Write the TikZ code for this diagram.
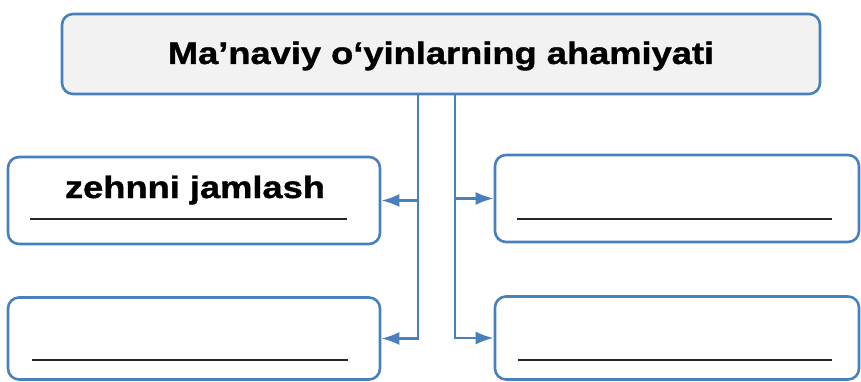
\documentclass[tikz,border=0pt]{standalone}
\usepackage{fontspec}
\setmainfont{Liberation Sans}
\newfontfamily\lblfont[FakeStretch=1.17,FakeBold=1.2]{Liberation Sans}
\usetikzlibrary{arrows.meta}
\definecolor{boxblue}{RGB}{72,128,190}
\tikzset{
	box/.style={draw=boxblue, line width=2.6pt, rounded corners=11pt, inner sep=0pt},
	link/.style={draw=boxblue, line width=2.6pt, -{Latex[length=18pt,width=13pt]}},
	blank/.style={draw=black!85, line width=2.8pt},
	lbl/.style={font=\lblfont\bfseries\fontsize{31}{36}\selectfont}
}
\begin{document}
\begin{tikzpicture}[x=1pt, y=-1pt]
		\useasboundingbox (0,0) rectangle (861,382);
		
		% riquadro principale
		\node[box, fill=black!5, minimum width=758pt, minimum height=80pt] (top) at (441,54) {};
		\node[lbl] (title) at (441,56) {Ma’naviy o‘yinlarning ahamiyati};
		
		% riquadri laterali
		\node[box, minimum width=372pt, minimum height=87pt] (lb1) at (194,200.5) {};
		\node[box, minimum width=372pt, minimum height=82pt] (lb2) at (194,338.5) {};
		\node[box, minimum width=364pt, minimum height=87pt] (rb1) at (677,198.5) {};
		\node[box, minimum width=364pt, minimum height=83pt] (rb2) at (677,338) {};
		\node[lbl] (zehn) at (195,190) {zehnni jamlash};
		
		% righe da completare
		\draw[blank] (30,219) -- (347,219);
		\draw[blank] (32,360) -- (348,360);
		\draw[blank] (517,219) -- (832,219);
		\draw[blank] (518,360) -- (832,360);
		
		% collegamenti
		\coordinate (tl) at (418,94);
		\coordinate (tr) at (455,94);
		\draw[link] (tl) |- (lb2.east);
		\draw[link] (tl |- lb1.east) -- (lb1.east);
		\draw[link] (tr) |- (rb2.west);
		\draw[link] (tr |- rb1.west) -- (rb1.west);
		
	\end{tikzpicture}
\end{document}
